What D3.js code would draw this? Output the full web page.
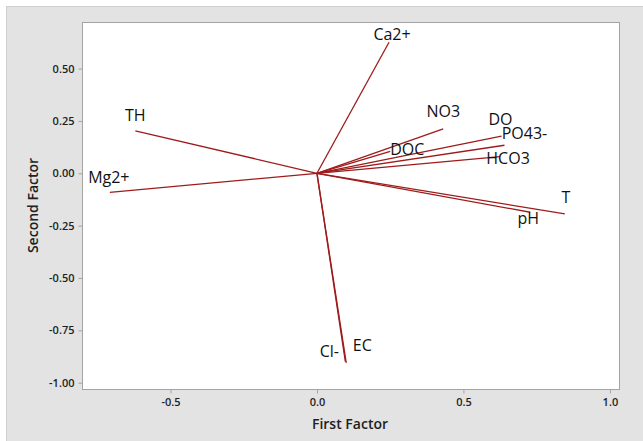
<!DOCTYPE html>
<html>
<head>
<meta charset="utf-8">
<script src="https://cdn.jsdelivr.net/npm/d3@7/dist/d3.min.js"></script>
<style>
  html, body { margin: 0; padding: 0; background: #ffffff; }
  svg { display: block; }
  text { font-family: "Open Sans", "Noto Sans", sans-serif; }
</style>
</head>
<body>
<svg id="chart" width="643" height="441"></svg>
<script>
// Loading plot: variable loadings on the first two factors
const variables = ["Ca2+", "TH", "Mg2+", "NO3", "DO", "PO43-", "DOC", "HCO3", "T", "pH", "Cl-", "EC"];
const firstFactor  = [0.246, -0.620, -0.707, 0.431, 0.630, 0.640, 0.250, 0.625, 0.846, 0.728, 0.097, 0.100];
const secondFactor = [0.626,  0.203, -0.091, 0.212, 0.178, 0.134, 0.105, 0.080, -0.194, -0.186, -0.900, -0.905];

const xTicks = [-0.5, 0.0, 0.5, 1.0];
const yTicks = [0.50, 0.25, 0.00, -0.25, -0.50, -0.75, -1.00];

// label placement relative to each vector tip (pixels)
const labelOffset = {
  "Ca2+": [3, -2], "TH": [0, -10], "Mg2+": [-1, -9], "NO3": [0, -12],
  "DO": [-1, -11], "PO43-": [20, -6], "DOC": [17, 4], "HCO3": [8, 7],
  "T": [1, -11], "pH": [-2, 12], "Cl-": [-16, -5], "EC": [16, -12]
};

const svg = d3.select("#chart");
const W = 643, H = 441;
const plot = { left: 82, top: 22, right: 619, bottom: 389 };

// panel background
svg.append("rect").attr("x", 0).attr("y", 0).attr("width", W).attr("height", H).attr("fill", "#ffffff");
svg.append("rect").attr("x", 6.5).attr("y", 6.5).attr("width", W).attr("height", H)
  .attr("fill", "#e3e3e3").attr("stroke", "#cfcfcf").attr("stroke-width", 1);

const x = d3.scaleLinear().domain([-0.802, 1.031]).range([plot.left, plot.right]);
const y = d3.scaleLinear().domain([-1.030, 0.7225]).range([plot.bottom, plot.top]);

svg.append("rect")
  .attr("x", plot.left + 0.5).attr("y", plot.top + 0.5)
  .attr("width", plot.right - plot.left).attr("height", plot.bottom - plot.top)
  .attr("fill", "#ffffff").attr("stroke", "#a3a3a3").attr("stroke-width", 1);

// axes (plain hyphen for negative numbers)
const fmt1 = d => d3.format(".1f")(d).replace("\u2212", "-");
const fmt2 = d => d3.format(".2f")(d).replace("\u2212", "-");
const xAxis = d3.axisBottom(x).tickValues(xTicks).tickFormat(fmt1).tickSize(4).tickPadding(3);
const yAxis = d3.axisLeft(y).tickValues(yTicks).tickFormat(fmt2).tickSize(4).tickPadding(4);

const gx = svg.append("g").attr("transform", `translate(0,${plot.bottom + 0.5})`).call(xAxis);
const gy = svg.append("g").attr("transform", `translate(${plot.left + 0.5},0)`).call(yAxis);
[gx, gy].forEach(g => {
  g.select(".domain").remove();
  g.selectAll(".tick line").attr("stroke", "#a3a3a3");
  g.selectAll(".tick text").attr("fill", "#1e1e1e")
    .style("font-size", "11px").style("font-weight", "600")
    .style("font-family", "'Open Sans', sans-serif");
});
gx.selectAll(".tick text").attr("dy", "0.9em");

// axis titles
svg.append("text").attr("x", 350).attr("y", 429)
  .attr("text-anchor", "middle").attr("fill", "#1e1e1e")
  .style("font-size", "14px").style("font-weight", "600")
  .text("First Factor");
svg.append("text")
  .attr("transform", `translate(38,${(plot.top + plot.bottom) / 2}) rotate(-90)`)
  .attr("text-anchor", "middle").attr("fill", "#1e1e1e")
  .style("font-size", "14px").style("font-weight", "600")
  .text("Second Factor");

// loading vectors
const data = variables.map((name, i) => ({ name, f1: firstFactor[i], f2: secondFactor[i] }));

svg.append("g").selectAll("line").data(data).join("line")
  .attr("x1", x(0)).attr("y1", y(0))
  .attr("x2", d => x(d.f1)).attr("y2", d => y(d.f2))
  .attr("stroke", "#9e1b1b").attr("stroke-width", 1.3);

svg.append("g").selectAll("text").data(data).join("text")
  .attr("x", d => x(d.f1) + labelOffset[d.name][0])
  .attr("y", d => y(d.f2) + labelOffset[d.name][1])
  .attr("text-anchor", "middle").attr("fill", "#111111")
  .style("font-size", "16px")
  .text(d => d.name);
</script>
</body>
</html>
